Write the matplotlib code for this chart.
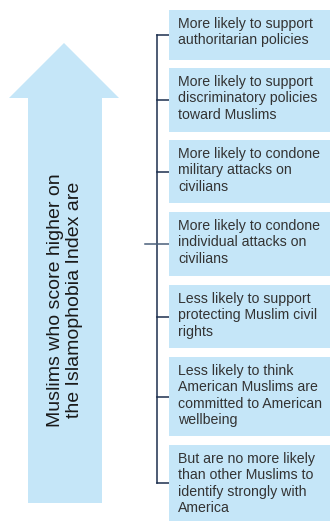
import matplotlib.pyplot as plt
from matplotlib.patches import Rectangle, Polygon

plt.rcParams['font.family'] = ['Liberation Sans', 'DejaVu Sans']

# Texto de la flecha y de las cajas
arrow_label = "Muslims who score higher on\nthe Islamophobia Index are"
box_labels = [
    "More likely to support\nauthoritarian policies",
    "More likely to support\ndiscriminatory policies\ntoward Muslims",
    "More likely to condone\nmilitary attacks on\ncivilians",
    "More likely to condone\nindividual attacks on\ncivilians",
    "Less likely to support\nprotecting Muslim civil\nrights",
    "Less likely to think\nAmerican Muslims are\ncommitted to American\nwellbeing",
    "But are no more likely\nthan other Muslims to\nidentify strongly with\nAmerica",
]

# Layout (pixeles)
box_top = [10, 68, 140, 212, 285, 357, 445]
box_bot = [60, 132, 203, 276, 348, 436, 525]
box_x0, box_x1 = 169, 330
bracket_x = 157
mid_idx = 3

light_blue = '#c5e6f8'
navy = '#1c2f4e'
text_col = '#333333'

fig = plt.figure(figsize=(3.3, 5.21), dpi=100)
ax = fig.add_axes([0, 0, 1, 1])
ax.set_xlim(0, 330)
ax.set_ylim(521, 0)
ax.axis('off')

# Flecha
arrow = Polygon([(28, 503), (28, 98), (9, 98), (64, 43), (119, 98), (102, 98), (102, 503)],
                closed=True, facecolor=light_blue, edgecolor='none')
ax.add_patch(arrow)
ax.text(65, 300, arrow_label, rotation=90, ha='center', va='center',
        fontsize=14, color='#1a1a1a', linespacing=1.2)

# Corchete
centers = [(t + b) / 2 for t, b in zip(box_top, box_bot)]
centers[-1] = 483
ax.plot([bracket_x, bracket_x], [centers[0], centers[-1]], color=navy, lw=1.1)
for i, yc in enumerate(centers):
    x0 = 145 if i == mid_idx else bracket_x
    ax.plot([x0, box_x0], [yc, yc], color=navy if i != mid_idx else '#4a5f7a', lw=1.1)

# Cajas
for lab, t, b in zip(box_labels, box_top, box_bot):
    ax.add_patch(Rectangle((box_x0, t), box_x1 - box_x0, b - t,
                           facecolor=light_blue, edgecolor='none', zorder=3))
    ax.text(box_x0 + 9, t + 7, lab, ha='left', va='top', fontsize=10.2,
            color=text_col, linespacing=1.22, zorder=4)

fig.savefig('out.png', dpi=100)
